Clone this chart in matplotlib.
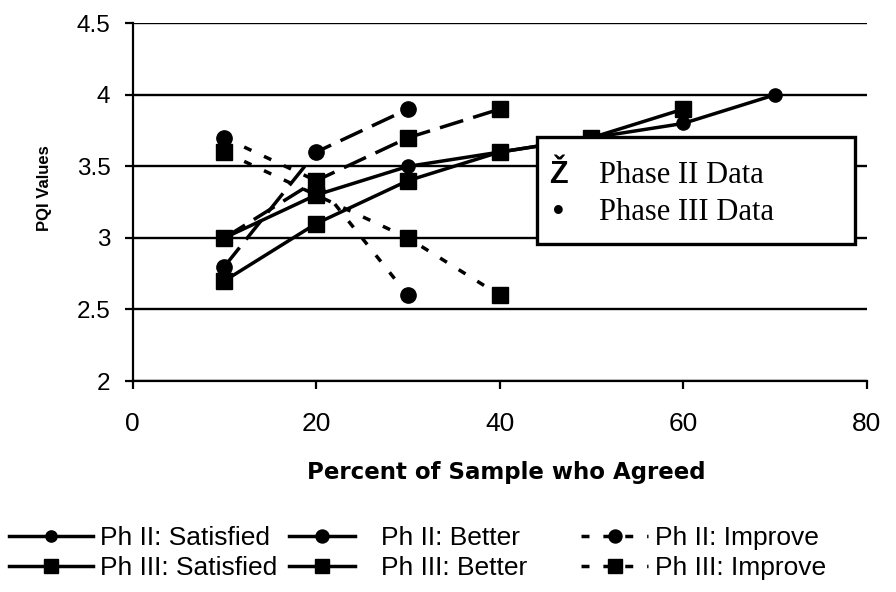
import matplotlib
matplotlib.use("Agg")
import matplotlib.pyplot as plt
from matplotlib.patches import Rectangle
from matplotlib.lines import Line2D

# ---- data ----
ph2_sat_x = [10, 20, 30, 40, 50, 60, 70]
ph2_sat_y = [3.0, 3.3, 3.5, 3.6, 3.7, 3.8, 4.0]
ph3_sat_x = [10, 20, 30, 40, 50, 60]
ph3_sat_y = [2.7, 3.1, 3.4, 3.6, 3.7, 3.9]
ph2_bet_x = [10, 20, 30]
ph2_bet_y = [2.8, 3.6, 3.9]
ph3_bet_x = [10, 20, 30, 40]
ph3_bet_y = [3.0, 3.4, 3.7, 3.9]
ph2_imp_x = [10, 20, 30]
ph2_imp_y = [3.7, 3.4, 2.6]
ph3_imp_x = [10, 20, 30, 40]
ph3_imp_y = [3.6, 3.3, 3.0, 2.6]

x_ticks = [0, 20, 40, 60, 80]
y_ticks = [2, 2.5, 3, 3.5, 4, 4.5]
y_tick_labels = ["2", "2.5", "3", "3.5", "4", "4.5"]

labels_sat = ["Ph II: Satisfied", "Ph III: Satisfied"]
labels_bet = ["Ph II: Better", "Ph III: Better"]
labels_imp = ["Ph II: Improve", "Ph III: Improve"]
box_labels = ["Phase II Data", "Phase III Data"]
box_symbols = ["Ž", "•"]

plt.rcParams['font.family'] = ['Liberation Sans', 'DejaVu Sans']

fig = plt.figure(figsize=(8.96, 5.92), dpi=100)
ax = fig.add_axes([0.148, 0.3564, 0.8192, 0.6042])

lw = 2.5
dash_bet = (0, (7, 3))
dot_imp = (0, (2.3, 4))

h1, = ax.plot(ph2_sat_x, ph2_sat_y, color='black', lw=lw, marker='o', ms=9.5, zorder=3)
h3, = ax.plot(ph2_bet_x, ph2_bet_y, color='black', lw=lw, ls=dash_bet, marker='o', ms=11, zorder=3)
h5, = ax.plot(ph2_imp_x, ph2_imp_y, color='black', lw=lw, ls=dot_imp, marker='o', ms=11, zorder=3)
h2, = ax.plot(ph3_sat_x, ph3_sat_y, color='black', lw=lw, marker='s', ms=12, zorder=4)
h4, = ax.plot(ph3_bet_x, ph3_bet_y, color='black', lw=lw, ls=dash_bet, marker='s', ms=12, zorder=4)
h6, = ax.plot(ph3_imp_x, ph3_imp_y, color='black', lw=lw, ls=dot_imp, marker='s', ms=12, zorder=4)

ax.set_xlim(0, 80)
ax.set_ylim(2, 4.5)
ax.set_xticks(x_ticks)
ax.set_yticks(y_ticks)
ax.set_yticklabels(y_tick_labels)
ax.tick_params(axis='both', direction='out', length=6, width=1.6, color='black')
ax.tick_params(axis='y', pad=10, labelsize=17.5)
ax.tick_params(axis='x', pad=16, labelsize=19)
for s in ['top', 'right']:
    ax.spines[s].set_visible(False)
for s in ['left', 'bottom']:
    ax.spines[s].set_linewidth(1.6)
ax.yaxis.grid(True, color='black', lw=1.7)
ax.set_axisbelow(True)

ax.set_ylabel("PQI Values", fontsize=12, fontweight='bold')
ax.yaxis.set_label_coords(-0.11, 0.54)
ax.set_xlabel("Percent of Sample who Agreed", fontsize=16.5, fontweight='bold',
              family=['DejaVu Sans'])
ax.xaxis.set_label_coords(0.509, -0.225)

# inner (text-symbol) legend box
rect = Rectangle((0.551, 0.383), 0.433, 0.299, transform=ax.transAxes,
                 facecolor='white', edgecolor='black', lw=2.4, zorder=10, clip_on=False)
ax.add_patch(rect)
rows_y = [0.553, 0.450]
for sym, lab, yy in zip(box_symbols, box_labels, rows_y):
    ax.text(0.580, yy, sym, transform=ax.transAxes, fontsize=22, ha='center', va='baseline',
            fontweight='bold', family=['Liberation Sans', 'DejaVu Sans'], zorder=11)
    ax.text(0.636, yy, lab, transform=ax.transAxes, fontsize=22, ha='left', va='baseline',
            family=['Liberation Serif', 'DejaVu Serif'], zorder=11)

# legend proxies for the "Better" series (legend sample drawn as a short solid stroke)
p3 = Line2D([], [], color='black', lw=lw, marker='o', ms=11)
p4 = Line2D([], [], color='black', lw=lw, marker='s', ms=12)

# bottom legend: three columns
fs = 19
cols = [([h1, h2], labels_sat, 9, 3.18, 0.25),
        ([p3, p4], labels_bet, 289, 2.5, 1.0),
        ([h5, h6], labels_imp, 581, 2.54, 0.25)]
for hs, labs, xpix, hl, tp in cols:
    lg = fig.legend(hs, labs, loc='center left', bbox_to_anchor=(xpix / 896, 39 / 592),
                    frameon=False, fontsize=fs, handlelength=hl, handletextpad=tp,
                    labelspacing=0.22, borderaxespad=0, borderpad=0, markerscale=0.85)

fig.savefig("out.png", dpi=100)
